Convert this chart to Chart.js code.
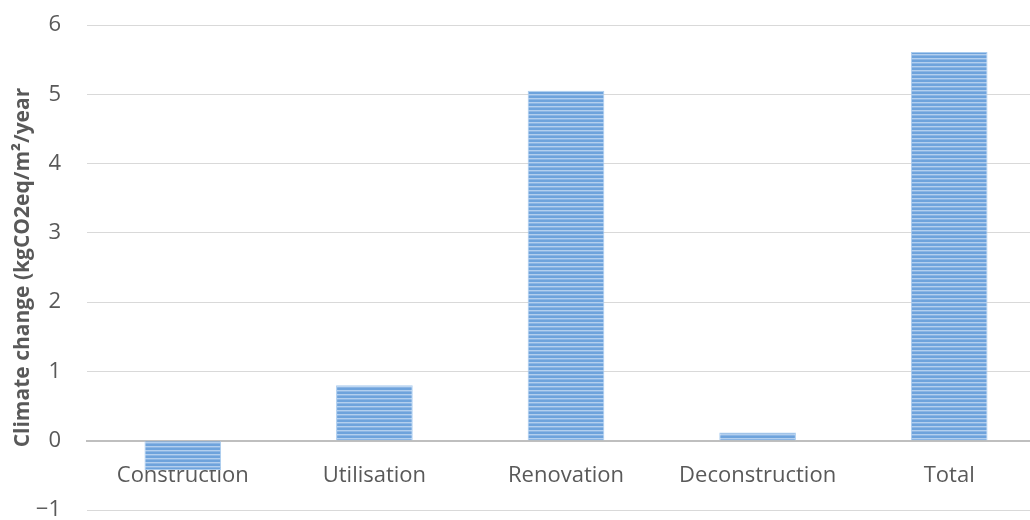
<!DOCTYPE html>
<html>
<head>
<meta charset="utf-8">
<script src="https://cdn.jsdelivr.net/npm/chart.js@4.4.0/dist/chart.umd.min.js"></script>
<style>
  html, body { margin: 0; padding: 0; background: #fff; overflow: hidden; }
  #wrap { width: 1050px; height: 520px; }
</style>
</head>
<body>
<div id="wrap"><canvas id="chart" width="1050" height="520"></canvas></div>
<script>
// data
const categories = ['Construction', 'Utilisation', 'Renovation', 'Deconstruction', 'Total'];
const climateValues = [-0.42, 0.80, 5.05, 0.12, 5.61];
const yTickValues = [-1, 0, 1, 2, 3, 4, 5, 6];
const yTickLabels = ['\u22121', '0', '1', '2', '3', '4', '5', '6'];
const yTitle = 'Climate change (kgCO2eq/m\u00b2/year';

const textColor = '#595959';
const fontFamily = "'Open Sans', 'Noto Sans', sans-serif";

// horizontal stripe fill like the original bars
function makeStripes() {
    const c = document.createElement('canvas');
    c.width = 4;
    c.height = 4;
    const g = c.getContext('2d');
    g.fillStyle = '#6ea3dc';
    g.fillRect(0, 0, 4, 2);
    g.fillStyle = '#b3cfee';
    g.fillRect(0, 2, 4, 1);
    g.fillStyle = '#8bb5e4';
    g.fillRect(0, 3, 4, 1);
    return g.createPattern(c, 'repeat');
}

const ctx = document.getElementById('chart').getContext('2d');
const chart = new Chart(ctx, {
    type: 'bar',
    data: {
        labels: categories,
        datasets: [{
            data: climateValues,
            backgroundColor: makeStripes(),
            borderColor: '#a9cbee',
            borderWidth: 1,
            barPercentage: 0.4,
            categoryPercentage: 1.0
        }]
    },
    options: {
        responsive: false,
        animation: false,
        layout: { padding: { top: 25, bottom: 9, left: 0, right: 5 } },
        plugins: {
            legend: { display: false },
            tooltip: { enabled: false }
        },
        scales: {
            x: {
                position: { y: 0 },
                grid: { display: false, drawTicks: false },
                border: { display: true, color: '#bfbfbf', width: 2 },
                ticks: {
                    color: textColor,
                    padding: 22,
                    maxRotation: 0,
                    font: { family: fontFamily, size: 22 }
                }
            },
            y: {
                min: -1,
                max: 6,
                afterFit: (scale) => { scale.width = 87; },
                afterBuildTicks: (scale) => {
                    scale.ticks = yTickValues.map(v => ({ value: v }));
                },
                // invisible tick marks make the gap between labels and grid
                grid: { color: '#d9d9d9', lineWidth: 1, drawTicks: true, tickLength: 26, tickColor: 'rgba(0,0,0,0)' },
                border: { display: false },
                ticks: {
                    color: textColor,
                    padding: 0,
                    font: { family: fontFamily, size: 22, lineHeight: 0.9 },
                    callback: (value) => yTickLabels[yTickValues.indexOf(value)]
                },
                title: {
                    display: true,
                    text: yTitle,
                    color: textColor,
                    padding: { top: 10, bottom: 0 },
                    font: { family: fontFamily, size: 21, weight: 'bold' }
                }
            }
        }
    }
});
</script>
</body>
</html>
